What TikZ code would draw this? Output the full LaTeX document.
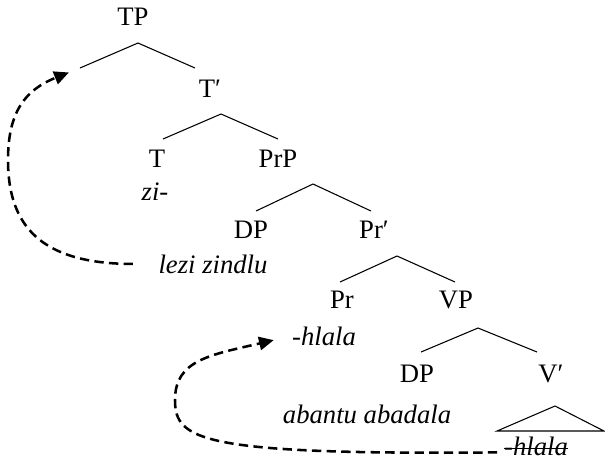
\documentclass[tikz,border=0pt]{standalone}
\usepackage{fontspec}
\setmainfont{Liberation Serif}
\usetikzlibrary{arrows.meta}

\begin{document}
\begin{tikzpicture}[x=0.75pt,y=0.75pt]
\tikzset{every node/.style={inner sep=0pt,anchor=base,font=\fontsize{20}{24}\selectfont}}
\tikzset{branch/.style={black,line width=0.8pt}}
\tikzset{form/.style={font=\fontsize{20}{24}\selectfont\itshape}}
\tikzset{move/.style={black,line width=1.9pt,dash pattern=on 7pt off 4pt,-{Triangle[length=11pt,width=10pt]}}}
\useasboundingbox (0,0) rectangle (605,-465);
% category labels
\node (tp) at (133,-25) {TP};
\node (tbar) at (210,-97) {T′};
\node (t) at (157,-167) {T};
\node (prp) at (278,-167) {PrP};
\node (dpa) at (251,-238) {DP};
\node (prbar) at (374,-238) {Pr′};
\node (pr) at (342,-308) {Pr};
\node (vp) at (456,-308) {VP};
\node (dpb) at (417,-382) {DP};
\node (vbar) at (551,-382) {V′};
% words
\node[form] (zi) at (155,-200) {zi-};
\node[form] (lezi) at (213,-273) {lezi zindlu};
\node[form] (hlala) at (324,-345) {-hlala};
\node[form] (abantu) at (367,-423) {abantu abadala};
\node[form] (hlcopy) at (536,-455) {-hlala};
\draw[line width=0.8pt] ([yshift=5pt]hlcopy.base west) -- ([yshift=5pt]hlcopy.base east);
% branches
\coordinate (tspec) at (80,-68);
\draw[branch] (tspec) -- (138,-43) -- (195,-68);
\draw[branch] (163,-139) -- (221,-114) -- (278,-139);
\draw[branch] (256,-211) -- (313,-184) -- (371,-211);
\draw[branch] (340,-282) -- (397,-256) -- (455,-282);
\draw[branch] (421,-352) -- (478,-328) -- (537,-352);
\draw[branch] (497,-431) -- (555,-406) -- (604,-431) -- cycle;
% movement
\draw[move,shorten <=19pt,shorten >=9pt] (lezi.west) .. controls (40,-264) and (8,-225) .. (8,-160)
  .. controls (8,-112) and (25,-90) .. (tspec);
\draw[move,shorten <=5pt,shorten >=14pt] ([yshift=2pt]hlcopy.base west) .. controls (200,-455) and (175,-440) .. (175,-400)
  .. controls (175,-360) and (210,-355) .. (hlala.west);
\end{tikzpicture}
\end{document}
